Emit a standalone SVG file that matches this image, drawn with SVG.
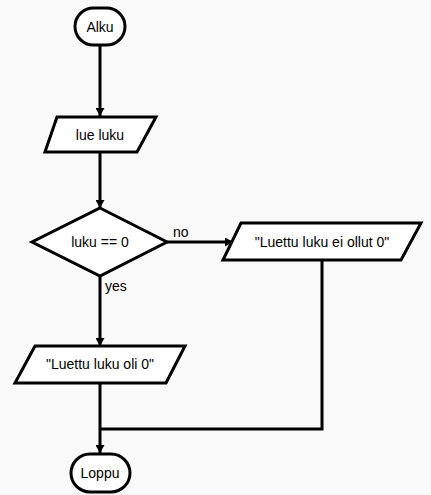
<svg xmlns="http://www.w3.org/2000/svg" width="431" height="495" viewBox="0 0 431 495">
<defs>
<style>
.shape{fill:#ffffff;stroke:#000;stroke-width:3;stroke-linejoin:miter}
.edge{fill:none;stroke:#000;stroke-width:3}
text{font-family:"Liberation Sans",Arial,sans-serif;font-size:14px;fill:#000}
.c{text-anchor:middle;dominant-baseline:central}
</style>
<marker id="arr" markerWidth="9" markerHeight="9" refX="8" refY="4.5" orient="auto" markerUnits="userSpaceOnUse">
<path d="M0,0 L8,4.5 L0,9 Z" fill="#000"/>
</marker>
</defs>
<rect width="431" height="495" fill="#f9f9f9"/>
<g id="connectors">
<path class="edge" d="M100,46 V116" marker-end="url(#arr)"/>
<path class="edge" d="M100,153 V208" marker-end="url(#arr)"/>
<path class="edge" d="M167,242 H233" marker-end="url(#arr)"/>
<path class="edge" d="M100,276 V346" marker-end="url(#arr)"/>
<path class="edge" d="M100,384 V453" marker-end="url(#arr)"/>
<path class="edge" d="M322,261 V429 H100"/>
<text x="173" y="237">no</text>
<text x="105" y="291">yes</text>
</g>
<g id="alku">
<rect class="shape" x="75" y="8" width="50" height="37" rx="18.5"/>
<text class="c" x="100" y="27">Alku</text>
</g>
<g id="lue">
<polygon class="shape" points="57,117 156,117 137,152 45,152"/>
<text class="c" x="100" y="135">lue luku</text>
</g>
<g id="ehto">
<polygon class="shape" points="100,208 167,242 100,276 32,242"/>
<text class="c" x="100" y="242">luku == 0</text>
</g>
<g id="ei">
<polygon class="shape" points="241,223 421,223 401,260 223,260"/>
<text class="c" x="322" y="242">"Luettu luku ei ollut 0"</text>
</g>
<g id="oli">
<polygon class="shape" points="35,346 185,346 166,383 15,383"/>
<text class="c" x="100" y="364">"Luettu luku oli 0"</text>
</g>
<g id="loppu">
<rect class="shape" x="71" y="454" width="59" height="38" rx="19"/>
<text class="c" x="100" y="473">Loppu</text>
</g>
</svg>
